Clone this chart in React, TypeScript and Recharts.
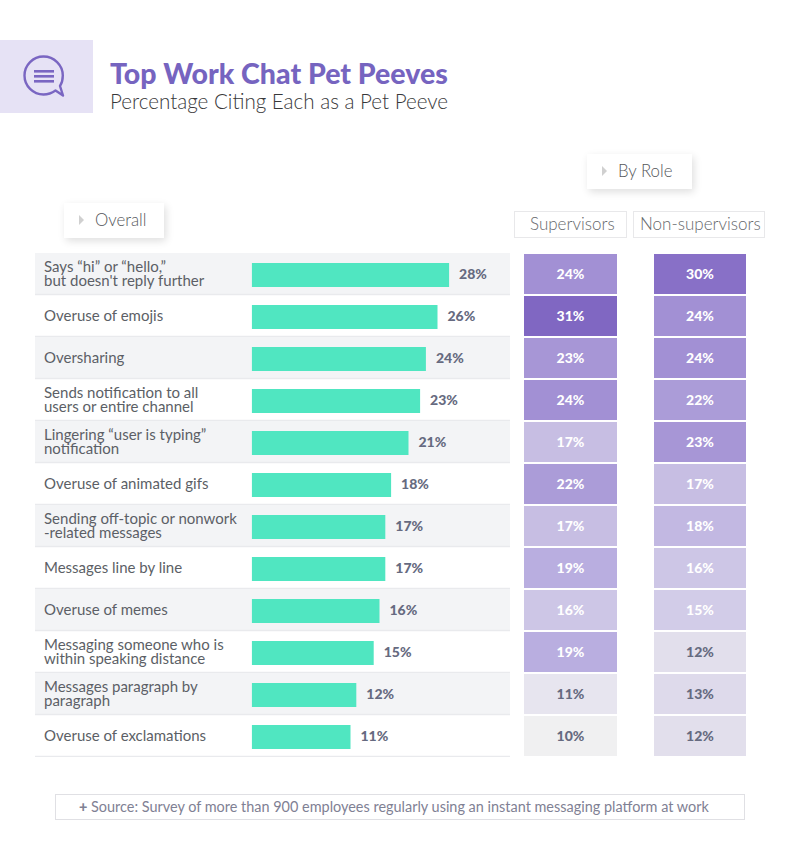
import { Bar, BarChart, Cell, LabelList, Rectangle, ReferenceArea, XAxis, YAxis } from 'recharts';

const peeves = [
  'Says “hi” or “hello,”\nbut doesn\'t reply further',
  'Overuse of emojis',
  'Oversharing',
  'Sends notification to all\nusers or entire channel',
  'Lingering “user is typing”\nnotification',
  'Overuse of animated gifs',
  'Sending off-topic or nonwork\n-related messages',
  'Messages line by line',
  'Overuse of memes',
  'Messaging someone who is\nwithin speaking distance',
  'Messages paragraph by\nparagraph',
  'Overuse of exclamations',
];
const overall = [28, 26, 24, 23, 21, 18, 17, 17, 16, 15, 12, 11];
const supervisors = [24, 31, 23, 24, 17, 22, 17, 19, 16, 19, 11, 10];
const nonSupervisors = [30, 24, 24, 22, 23, 17, 18, 16, 15, 12, 13, 12];

// the bars in the picture do not start at zero, they start about here.
// the axis runs further left so the row bands also sit behind the labels
const barStart = -6;
const axisStart = -43.4;
const axisEnd = 38.5;

const FONT = 'Lato, sans-serif';
const darkLabel = '#666a80';

const rows = peeves.map((name, i) => ({
  name,
  overall: overall[i],
  span: [barStart, overall[i]],
  supervisors: supervisors[i],
  nonSupervisors: nonSupervisors[i],
  full: 1,
}));

function heatColor(v: number) {
  if (v >= 31) return '#8067c2';
  if (v >= 30) return '#8870c7';
  if (v >= 24) return '#a290d4';
  if (v >= 23) return '#a796d6';
  if (v >= 22) return '#ab9cd8';
  if (v >= 19) return '#b9aee0';
  if (v >= 18) return '#c2b8e2';
  if (v >= 17) return '#c7bee3';
  if (v >= 16) return '#cdc6e6';
  if (v >= 15) return '#d2cce8';
  if (v >= 13) return '#dedaeb';
  if (v >= 12) return '#e2dfec';
  if (v >= 11) return '#e7e5ef';
  return '#f0f0f1';
}

function PeeveTick({ y, payload }: any) {
  const lines = String(payload.value).split('\n');
  const top = lines.length > 1 ? -2 : 5;
  return (
    <text x={9} y={y + top} fontFamily={FONT} fontSize={15} fill="#5c5f66">
      {lines.map((l, i) => (
        <tspan key={i} x={9} dy={i === 0 ? 0 : 14}>{l}</tspan>
      ))}
    </text>
  );
}

function RowBand({ x, y, width, height, shaded }: any) {
  return (
    <g>
      {shaded && <rect x={x} y={y} width={width} height={height - 1} fill="#f3f4f6" />}
      <line x1={x} x2={x + width} y1={y + height - 0.5} y2={y + height - 0.5} stroke="#e9eaed" strokeWidth={1.5} />
    </g>
  );
}

function OverallChart() {
  return (
    <BarChart
      width={475}
      height={504}
      data={rows}
      layout="vertical"
      barCategoryGap={0}
      margin={{ top: 0, right: 0, bottom: 0, left: 0 }}
      style={{ position: 'absolute', left: 35, top: 253 }}
    >
      <XAxis type="number" domain={[axisStart, axisEnd]} hide />
      <YAxis
        type="category"
        dataKey="name"
        mirror
        width={200}
        axisLine={false}
        tickLine={false}
        interval={0}
        tick={(p: any) => <PeeveTick {...p} />}
      />
      {rows.map((r, i) => (
        <ReferenceArea
          key={r.name}
          y1={r.name}
          y2={r.name}
          x1={axisStart}
          x2={axisEnd}
          shape={(p: any) => <RowBand {...p} shaded={i % 2 === 0} />}
        />
      ))}
      <Bar
        dataKey="span"
        barSize={24}
        fill="#50e6c1"
        isAnimationActive={false}
        shape={(p: any) => <Rectangle x={p.x} y={p.y + 1} width={p.width} height={p.height} fill={p.fill} />}
      >
        <LabelList
          dataKey="overall"
          content={(p: any) => (
            <text
              x={p.x + p.width + 10}
              y={p.y + p.height / 2 + 5}
              fontFamily={FONT}
              fontSize={14}
              fontWeight={900}
              fill={darkLabel}
            >
              {p.value}%
            </text>
          )}
        />
      </Bar>
    </BarChart>
  );
}

function HeatColumn({ dataKey, left, width }: { dataKey: 'supervisors' | 'nonSupervisors'; left: number; width: number }) {
  return (
    <BarChart
      width={width}
      height={504}
      data={rows}
      layout="vertical"
      barCategoryGap={1}
      margin={{ top: 0, right: 0, bottom: 0, left: 0 }}
      style={{ position: 'absolute', left, top: 253 }}
    >
      <XAxis type="number" domain={[0, 1]} hide />
      <YAxis type="category" dataKey="name" hide />
      <Bar dataKey="full" isAnimationActive={false}>
        {rows.map((r) => (
          <Cell key={r.name} fill={heatColor(r[dataKey])} />
        ))}
        <LabelList
          dataKey={dataKey}
          content={(p: any) => (
            <text
              x={p.x + p.width / 2}
              y={p.y + p.height / 2 + 5}
              textAnchor="middle"
              fontFamily={FONT}
              fontSize={14}
              fontWeight={900}
              fill={p.value >= 15 ? '#ffffff' : darkLabel}
            >
              {p.value}%
            </text>
          )}
        />
      </Bar>
    </BarChart>
  );
}

function Tag({ label, left, top, width }: { label: string; left: number; top: number; width: number }) {
  return (
    <div
      style={{
        position: 'absolute', left, top, width, height: 35, background: '#fff',
        boxShadow: '2px 3px 8px rgba(0,0,0,0.13)', fontFamily: FONT, fontWeight: 300, fontSize: 16.8, color: '#55575b',
        lineHeight: '33px',
      }}
    >
      <span style={{ position: 'absolute', left: 15, top: 12, width: 0, height: 0, borderLeft: '5px solid #d0d0d0', borderTop: '5px solid transparent', borderBottom: '5px solid transparent' }} />
      <span style={{ position: 'absolute', left: 31 }}>{label}</span>
    </div>
  );
}

function RoleBox({ label, left, width, pad }: { label: string; left: number; width: number; pad: number }) {
  return (
    <div
      style={{
        position: 'absolute', left, top: 211, width, height: 27, boxSizing: 'border-box', border: '1.5px solid #e8e8ea',
        fontFamily: FONT, fontWeight: 300, fontSize: 17, color: '#66686c', lineHeight: '24px', paddingLeft: pad, whiteSpace: 'nowrap',
      }}
    >
      {label}
    </div>
  );
}

export default function App() {
  return (
    <div style={{ position: 'absolute', left: 0, top: 0, width: 801, height: 858, background: '#fff', overflow: 'hidden' }}>
      <div style={{ position: 'absolute', left: 0, top: 40, width: 93, height: 73, background: '#e6e2f5' }} />
      <svg style={{ position: 'absolute', left: 20, top: 52 }} width={48} height={48} viewBox="0 0 48 48">
        <path d="M23.5 4.5 C13 4.5 4.5 13 4.5 23.5 C4.5 34 13 42.5 23.5 42.5 C28 42.5 32 41 35.5 38.5 L43 43.5 L40 34 C42 31 42.8 27.5 42.8 23.5 C42.8 13 34 4.5 23.5 4.5 Z" fill="none" stroke="#7a66c2" strokeWidth={2.4} strokeLinejoin="round" />
        <rect x="14" y="18" width="20" height="2.6" fill="#7a66c2" />
        <rect x="14" y="23" width="20" height="2.6" fill="#7a66c2" />
        <rect x="14" y="28" width="20" height="2.6" fill="#7a66c2" />
      </svg>
      <div style={{ position: 'absolute', left: 110, top: 56, fontFamily: FONT, fontWeight: 900, fontSize: 28.5, color: '#7664c0', whiteSpace: 'nowrap' }}>
        Top Work Chat Pet Peeves
      </div>
      <div style={{ position: 'absolute', left: 110, top: 89, fontFamily: FONT, fontWeight: 300, fontSize: 20.6, color: '#38383a', whiteSpace: 'nowrap' }}>
        Percentage Citing Each as a Pet Peeve
      </div>

      <Tag label="By Role" left={587} top={154} width={105} />
      <Tag label="Overall" left={64} top={203} width={100} />
      <RoleBox label="Supervisors" left={514} width={113} pad={15} />
      <RoleBox label="Non-supervisors" left={633} width={132} pad={6} />

      <OverallChart />
      <HeatColumn dataKey="supervisors" left={524} width={93} />
      <HeatColumn dataKey="nonSupervisors" left={654} width={92} />

      <div
        style={{
          position: 'absolute', left: 55, top: 794, width: 690, height: 26, boxSizing: 'border-box', border: '1px solid #e0e0e4',
          fontFamily: FONT, fontSize: 14.45, color: '#7f8194', lineHeight: '23px', whiteSpace: 'nowrap', paddingLeft: 23,
        }}
      >
        <span style={{ fontWeight: 900 }}>+</span> Source: Survey of more than 900 employees regularly using an instant messaging platform at work
      </div>
    </div>
  );
}
